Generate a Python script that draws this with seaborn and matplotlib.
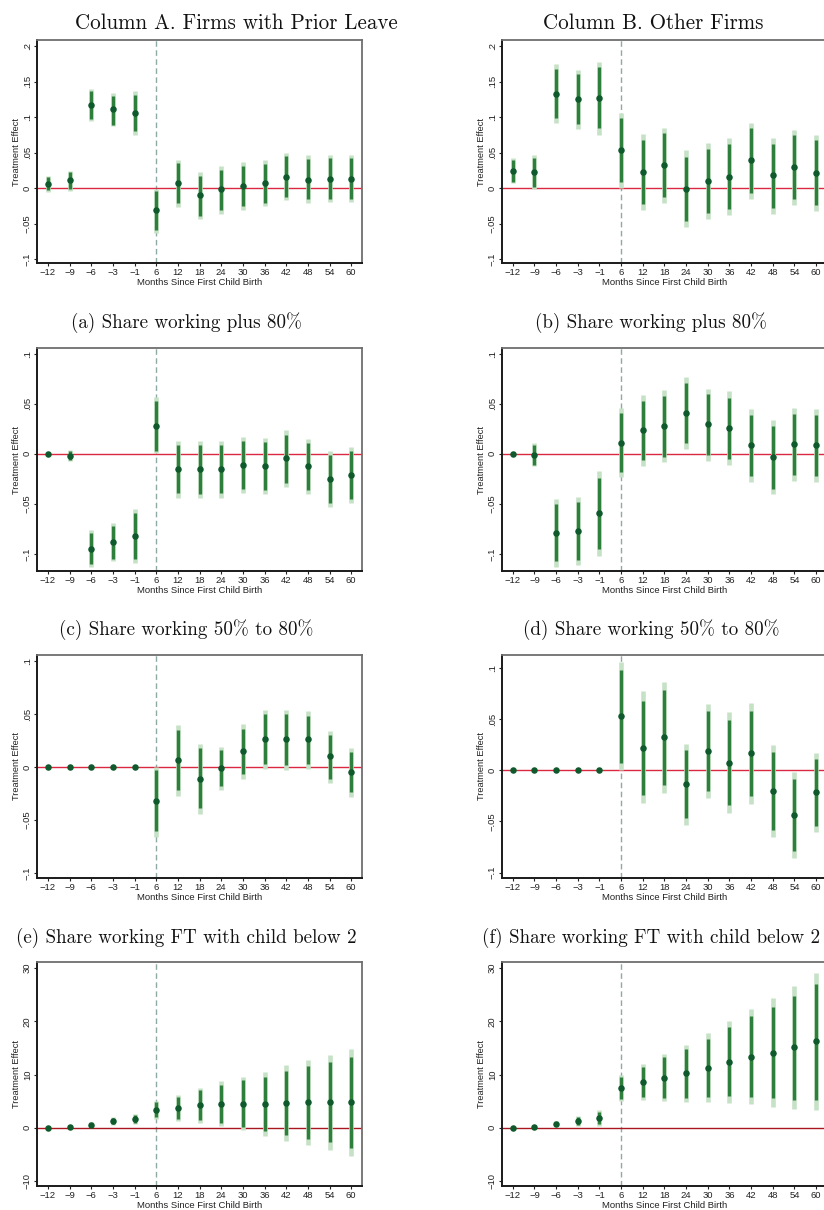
import numpy as np
import pandas as pd
import seaborn as sns
import matplotlib
matplotlib.use("Agg")
import matplotlib.pyplot as plt

months = ["−12", "−9", "−6", "−3", "−1", "6", "12", "18", "24", "30", "36", "42", "48", "54", "60"]

# row 1: share working plus 80% (panels a / b)
a_coef = [0.006, 0.011, 0.117, 0.111, 0.106, -0.031, 0.007, -0.010, -0.002, 0.003, 0.007, 0.016, 0.012, 0.013, 0.013]
a_lo90 = [-0.003, -0.002, 0.097, 0.089, 0.080, -0.059, -0.021, -0.039, -0.031, -0.026, -0.021, -0.012, -0.016, -0.015, -0.015]
a_hi90 = [0.015, 0.022, 0.136, 0.130, 0.131, -0.004, 0.035, 0.017, 0.026, 0.031, 0.034, 0.045, 0.041, 0.042, 0.042]
a_lo95 = [-0.005, -0.004, 0.095, 0.087, 0.074, -0.063, -0.027, -0.044, -0.036, -0.031, -0.026, -0.017, -0.021, -0.020, -0.020]
a_hi95 = [0.017, 0.024, 0.139, 0.134, 0.136, -0.001, 0.040, 0.023, 0.031, 0.036, 0.040, 0.050, 0.046, 0.046, 0.047]

b_coef = [0.024, 0.022, 0.132, 0.125, 0.127, 0.053, 0.022, 0.032, -0.001, 0.010, 0.016, 0.039, 0.018, 0.029, 0.021]
b_lo90 = [0.009, 0.001, 0.099, 0.090, 0.084, 0.008, -0.023, -0.013, -0.046, -0.035, -0.029, -0.007, -0.028, -0.016, -0.024]
b_hi90 = [0.039, 0.042, 0.167, 0.160, 0.170, 0.098, 0.067, 0.077, 0.044, 0.055, 0.062, 0.084, 0.062, 0.074, 0.067]
b_lo95 = [0.007, -0.002, 0.092, 0.083, 0.075, 0.000, -0.031, -0.021, -0.055, -0.044, -0.038, -0.015, -0.037, -0.024, -0.032]
b_hi95 = [0.042, 0.046, 0.174, 0.166, 0.178, 0.106, 0.076, 0.085, 0.053, 0.063, 0.070, 0.092, 0.071, 0.082, 0.075]

# row 2: share working 50% to 80% (panels c / d)
c_coef = [0.0, -0.002, -0.095, -0.088, -0.082, 0.028, -0.015, -0.015, -0.015, -0.011, -0.012, -0.004, -0.012, -0.025, -0.021]
c_lo90 = [0.0, -0.006, -0.110, -0.105, -0.105, 0.003, -0.039, -0.040, -0.039, -0.035, -0.036, -0.029, -0.036, -0.049, -0.045]
c_hi90 = [0.0, 0.003, -0.079, -0.072, -0.059, 0.053, 0.009, 0.009, 0.009, 0.013, 0.012, 0.019, 0.011, -0.001, 0.003]
c_lo95 = [0.0, -0.007, -0.113, -0.107, -0.109, 0.001, -0.044, -0.044, -0.044, -0.039, -0.040, -0.033, -0.040, -0.053, -0.049]
c_hi95 = [0.0, 0.004, -0.076, -0.069, -0.055, 0.057, 0.013, 0.013, 0.013, 0.017, 0.016, 0.024, 0.015, 0.003, 0.007]

d_coef = [0.0, -0.001, -0.079, -0.077, -0.059, 0.011, 0.024, 0.028, 0.041, 0.030, 0.026, 0.009, -0.003, 0.010, 0.009]
d_lo90 = [0.0, -0.011, -0.107, -0.106, -0.095, -0.018, -0.006, -0.003, 0.011, -0.001, -0.005, -0.022, -0.035, -0.021, -0.022]
d_hi90 = [0.0, 0.009, -0.050, -0.048, -0.024, 0.041, 0.053, 0.058, 0.071, 0.060, 0.056, 0.039, 0.028, 0.040, 0.039]
d_lo95 = [0.0, -0.012, -0.113, -0.111, -0.102, -0.023, -0.012, -0.008, 0.005, -0.007, -0.011, -0.028, -0.040, -0.027, -0.028]
d_hi95 = [0.0, 0.011, -0.045, -0.043, -0.017, 0.046, 0.059, 0.064, 0.077, 0.065, 0.063, 0.045, 0.034, 0.046, 0.045]

# row 3: share working FT with child below 2 (panels e / f)
e_coef = [0.0, 0.0, 0.0, 0.0, 0.0, -0.032, 0.007, -0.011, -0.001, 0.015, 0.026, 0.026, 0.026, 0.010, -0.005]
e_lo90 = [0.0, 0.0, 0.0, 0.0, 0.0, -0.060, -0.022, -0.039, -0.018, -0.007, 0.003, 0.002, 0.003, -0.011, -0.024]
e_hi90 = [0.0, 0.0, 0.0, 0.0, 0.0, -0.003, 0.035, 0.018, 0.016, 0.036, 0.050, 0.050, 0.048, 0.030, 0.014]
e_lo95 = [0.0, 0.0, 0.0, 0.0, 0.0, -0.066, -0.027, -0.044, -0.022, -0.011, -0.002, -0.003, -0.002, -0.015, -0.028]
e_hi95 = [0.0, 0.0, 0.0, 0.0, 0.0, 0.000, 0.040, 0.022, 0.019, 0.041, 0.054, 0.054, 0.053, 0.034, 0.018]

f_coef = [0.0, 0.0, 0.0, 0.0, 0.0, 0.053, 0.022, 0.032, -0.013, 0.019, 0.007, 0.017, -0.020, -0.044, -0.021]
f_lo90 = [0.0, 0.0, 0.0, 0.0, 0.0, 0.007, -0.024, -0.014, -0.047, -0.020, -0.034, -0.025, -0.058, -0.079, -0.054]
f_hi90 = [0.0, 0.0, 0.0, 0.0, 0.0, 0.098, 0.068, 0.078, 0.020, 0.058, 0.049, 0.058, 0.018, -0.009, 0.011]
f_lo95 = [0.0, 0.0, 0.0, 0.0, 0.0, 0.000, -0.032, -0.022, -0.053, -0.027, -0.042, -0.033, -0.065, -0.086, -0.060]
f_hi95 = [0.0, 0.0, 0.0, 0.0, 0.0, 0.106, 0.077, 0.086, 0.026, 0.065, 0.057, 0.066, 0.025, -0.002, 0.017]

# row 4: (levels)
g_coef = [0.0, 0.05, 0.56, 1.25, 1.7, 3.4, 3.75, 4.2, 4.55, 4.55, 4.5, 4.7, 4.8, 4.85, 4.75]
g_lo90 = [0.0, 0.0, 0.25, 0.75, 0.9, 1.95, 1.7, 1.4, 0.95, 0.1, -0.6, -1.3, -2.1, -2.7, -3.75]
g_hi90 = [0.0, 0.1, 0.9, 1.8, 2.45, 4.8, 5.75, 7.0, 8.1, 8.9, 9.6, 10.6, 11.6, 12.4, 13.25]
g_lo95 = [0.0, -0.05, 0.1, 0.55, 0.7, 1.7, 1.25, 0.95, 0.4, -0.5, -1.5, -2.4, -3.2, -4.1, -5.3]
g_hi95 = [0.0, 0.15, 1.0, 2.0, 2.6, 5.1, 6.2, 7.5, 8.7, 9.6, 10.4, 11.7, 12.75, 13.75, 14.7]

h_coef = [0.0, 0.1, 0.7, 1.3, 1.9, 7.45, 8.55, 9.4, 10.25, 11.25, 12.4, 13.3, 14.1, 15.1, 16.25]
h_lo90 = [0.0, 0.0, 0.3, 0.6, 0.75, 5.45, 5.75, 5.55, 5.6, 5.75, 5.9, 5.75, 5.55, 5.3, 5.3]
h_hi90 = [0.0, 0.2, 1.05, 2.1, 3.05, 9.5, 11.4, 13.25, 14.8, 16.7, 18.9, 20.9, 22.75, 24.8, 27.0]
h_lo95 = [0.0, -0.05, 0.1, 0.4, 0.4, 5.1, 5.25, 4.95, 4.8, 4.75, 4.6, 4.4, 3.9, 3.55, 3.4]
h_hi95 = [0.0, 0.25, 1.2, 2.3, 3.25, 9.9, 12.0, 13.9, 15.6, 17.75, 20.1, 22.3, 24.4, 26.7, 29.1]

share_ticks = [-0.1, -0.05, 0, 0.05, 0.1, 0.15, 0.2]
share_labels = ["−.1", "−.05", "0", ".05", ".1", ".15", ".2"]
level_ticks = [-10, 0, 10, 20, 30]
level_labels = ["−10", "0", "10", "20", "30"]

LIGHT = "#c6e2c6"
DARK = "#2f7f3c"
POINT = "#0f5a2c"

sns.set_style("white")
plt.rcParams["font.family"] = ["Liberation Sans", "DejaVu Sans"]

fig = plt.figure(figsize=(8.24, 12.10), dpi=100)


def panel(left_px, top_px, bottom_px, coef, lo90, hi90, lo95, hi95, ylim, ticks, labels, zero_color):
    ax = fig.add_axes([left_px / 824, 1 - bottom_px / 1210, 325 / 824, (bottom_px - top_px) / 1210])
    df = pd.DataFrame({"month": months, "coef": coef, "lo90": lo90, "hi90": hi90,
                       "lo95": lo95, "hi95": hi95})
    df["pos"] = np.arange(len(df))
    ax.axvline(months.index("6"), color="#8fa9a4", lw=1.0, ls=(0, (4, 2.5)), zorder=1)
    ax.axhline(0, color=zero_color, lw=1.0, zorder=1.5)
    ax.vlines(df["pos"], df["lo95"], df["hi95"], color=LIGHT, lw=3.3, zorder=2)
    ax.vlines(df["pos"], df["lo90"], df["hi90"], color=DARK, lw=2.4, zorder=3)
    sns.scatterplot(data=df, x="pos", y="coef", color=POINT, s=22, linewidth=0,
                    ax=ax, zorder=4, legend=False)
    ax.set_xlim(-0.5, len(months) - 0.5)
    ax.set_ylim(*ylim)
    ax.set_xticks(df["pos"])
    ax.set_xticklabels(months, fontsize=6.8)
    keep = [(t, l) for t, l in zip(ticks, labels) if ylim[0] <= t <= ylim[1]]
    ax.set_yticks([t for t, _ in keep])
    ax.set_yticklabels([l for _, l in keep], fontsize=6.8, rotation=90, va="center")
    ax.tick_params(axis="both", direction="out", length=2.5, width=0.8, pad=1.2,
                   colors="#222222", bottom=True, left=True)
    ax.set_xlabel("Months Since First Child Birth", fontsize=6.8, labelpad=0.5, color="#222222")
    ax.set_ylabel("Treatment Effect", fontsize=6.7, labelpad=1.5, color="#222222")
    for side in ["left", "bottom"]:
        ax.spines[side].set_color("#1a1a1a")
        ax.spines[side].set_linewidth(1.4)
    for side in ["top", "right"]:
        ax.spines[side].set_color("#6e6e6e")
        ax.spines[side].set_linewidth(1.3)
    return ax


red = "#d9283f"
dark_red = "#a8161f"

panel(37, 40, 263, a_coef, a_lo90, a_hi90, a_lo95, a_hi95, (-0.1056, 0.2085), share_ticks, share_labels, red)
panel(502, 40, 263, b_coef, b_lo90, b_hi90, b_lo95, b_hi95, (-0.1056, 0.2085), share_ticks, share_labels, red)
panel(37, 348, 571, c_coef, c_lo90, c_hi90, c_lo95, c_hi95, (-0.117, 0.1056), share_ticks, share_labels, red)
panel(502, 348, 571, d_coef, d_lo90, d_hi90, d_lo95, d_hi95, (-0.117, 0.1056), share_ticks, share_labels, red)
panel(37, 655, 878, e_coef, e_lo90, e_hi90, e_lo95, e_hi95, (-0.1047, 0.1057), share_ticks, share_labels, red)
panel(502, 655, 878, f_coef, f_lo90, f_hi90, f_lo95, f_hi95, (-0.1052, 0.1124), share_ticks, share_labels, red)
panel(37, 962, 1186, g_coef, g_lo90, g_hi90, g_lo95, g_hi95, (-10.94, 31.13), level_ticks, level_labels, dark_red)
panel(502, 962, 1186, h_coef, h_lo90, h_hi90, h_lo95, h_hi95, (-10.94, 31.13), level_ticks, level_labels, dark_red)

serif = dict(family="cmr10", ha="center", va="center", color="#111111")
fig.text(236 / 824, 1 - 23 / 1210, "Column A. Firms with Prior Leave", fontsize=15.1, **serif)
fig.text(653 / 824, 1 - 23 / 1210, "Column B. Other Firms", fontsize=15.1, **serif)

captions = [("(a) Share working plus 80%", "(b) Share working plus 80%", 323),
            ("(c) Share working 50% to 80%", "(d) Share working 50% to 80%", 630),
            ("(e) Share working FT with child below 2", "(f) Share working FT with child below 2", 938)]
for left_txt, right_txt, ypx in captions:
    fig.text(186 / 824, 1 - ypx / 1210, left_txt, fontsize=13.7, **serif)
    fig.text(651 / 824, 1 - ypx / 1210, right_txt, fontsize=13.7, **serif)

fig.savefig("out.png", dpi=100, facecolor="white")
